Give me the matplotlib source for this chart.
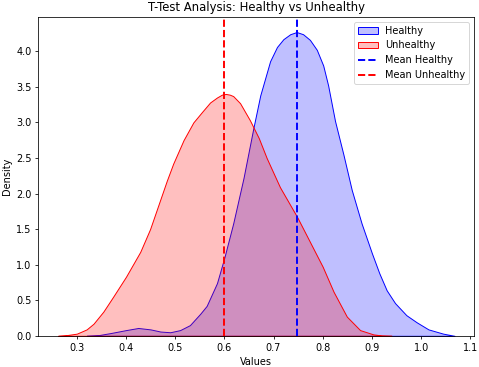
import matplotlib
matplotlib.use("Agg")
import matplotlib.pyplot as plt
from matplotlib.colors import to_rgba

# density curves (value, density)
healthy_x = [0.320, 0.345, 0.370, 0.400, 0.425, 0.450, 0.470, 0.490, 0.510,
             0.530, 0.551, 0.564, 0.585, 0.600, 0.618, 0.639, 0.659, 0.673,
             0.693, 0.707, 0.720, 0.734, 0.747, 0.760, 0.774, 0.788, 0.801,
             0.811, 0.825, 0.842, 0.859, 0.879, 0.900, 0.915, 0.930, 0.947,
             0.970, 0.991, 1.015, 1.045, 1.068]
healthy_y = [0.00, 0.01, 0.04, 0.08, 0.11, 0.09, 0.06, 0.05, 0.08,
             0.15, 0.31, 0.42, 0.74, 1.10, 1.58, 2.22, 2.92, 3.38,
             3.86, 4.06, 4.17, 4.24, 4.27, 4.24, 4.16, 4.02, 3.80,
             3.52, 3.02, 2.55, 2.05, 1.58, 1.16, 0.88, 0.64, 0.46,
             0.29, 0.19, 0.09, 0.03, 0.00]

unhealthy_x = [0.262, 0.280, 0.300, 0.320, 0.334, 0.354, 0.374, 0.400, 0.429,
               0.449, 0.469, 0.483, 0.496, 0.517, 0.537, 0.555, 0.571, 0.585,
               0.595, 0.603, 0.611, 0.618, 0.632, 0.652, 0.670, 0.686, 0.713,
               0.748, 0.774, 0.800, 0.822, 0.849, 0.876, 0.903, 0.920, 0.940]
unhealthy_y = [0.00, 0.01, 0.03, 0.09, 0.17, 0.34, 0.55, 0.83, 1.18,
               1.50, 1.90, 2.18, 2.42, 2.75, 3.00, 3.15, 3.28, 3.35,
               3.39, 3.40, 3.39, 3.37, 3.27, 3.03, 2.78, 2.50, 2.09,
               1.67, 1.32, 0.97, 0.62, 0.27, 0.08, 0.02, 0.005, 0.00]

mean_healthy = 0.748
mean_unhealthy = 0.600

fig, ax = plt.subplots(figsize=(6.857, 5.243), dpi=70)
fig.subplots_adjust(left=0.08, right=0.988, bottom=0.085, top=0.954)

ax.fill_between(healthy_x, healthy_y, facecolor=to_rgba('blue', 0.25),
                edgecolor='blue', linewidth=1.0, label='Healthy')
ax.fill_between(unhealthy_x, unhealthy_y, facecolor=to_rgba('red', 0.25),
                edgecolor='red', linewidth=1.0, label='Unhealthy')

ax.axvline(mean_healthy, color='blue', linestyle='--', linewidth=2, label='Mean Healthy')
ax.axvline(mean_unhealthy, color='red', linestyle='--', linewidth=2, label='Mean Unhealthy')

ax.set_xlim(0.222, 1.108)
ax.set_ylim(0, max(healthy_y) * 1.05)

ax.set_title("T-Test Analysis: Healthy vs Unhealthy")
ax.set_xlabel("Values")
ax.set_ylabel("Density")
ax.legend(loc='upper right')

fig.savefig("out.png", dpi=70)
